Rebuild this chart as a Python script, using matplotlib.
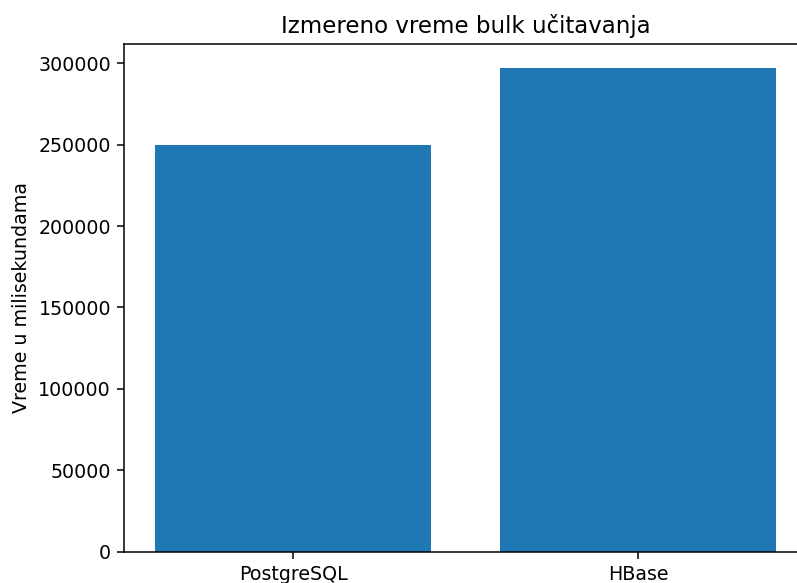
import matplotlib
matplotlib.use("Agg")
import matplotlib.pyplot as plt

baze = ["PostgreSQL", "HBase"]
vreme_ms = [249500, 296800]

DPI = 137
fig = plt.figure(figsize=(797 / DPI, 583 / DPI), dpi=DPI)
# axes extend past the right edge, like the cropped original
ax = fig.add_axes([124.4 / 797, 31.3 / 583, 683 / 797, 507.5 / 583])

ax.bar(baze, vreme_ms, color="#1f77b4")
ax.set_title("Izmereno vreme bulk učitavanja")
ax.set_ylabel("Vreme u milisekundama")
ax.spines["right"].set_visible(False)

fig.savefig("out.png", dpi=DPI)
